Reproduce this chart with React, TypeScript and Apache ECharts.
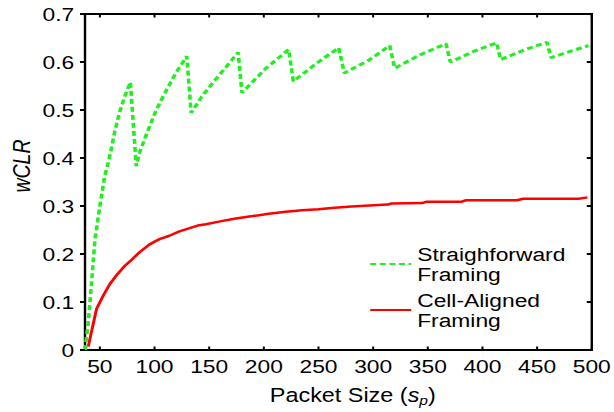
import React, { useEffect, useRef } from "react";
import * as echarts from "echarts";

const xTicks = [50, 100, 150, 200, 250, 300, 350, 400, 450, 500];
const yTicks = [0, 0.1, 0.2, 0.3, 0.4, 0.5, 0.6, 0.7];
const X_MIN = 36.4;
const X_MAX = 500;
const Y_MIN = 0;
const Y_MAX = 0.7;

const straightforwardName = "Straighforward\nFraming";
const cellAlignedName = "Cell-Aligned\nFraming";

const straightforward: [number, number][] = [
  [36.4, 0], [39.4, 0.058], [42.4, 0.14], [45.5, 0.23], [50, 0.3], [54.5, 0.363],
  [57.6, 0.39], [60.6, 0.42], [63.6, 0.455], [68.2, 0.497], [73.6, 0.533], [77.9, 0.558],
  [83.3, 0.383], [86.4, 0.412], [92.4, 0.448], [101.5, 0.5], [110.6, 0.54], [119.7, 0.578], [129.5, 0.612],
  [133.5, 0.494], [143.9, 0.53], [156, 0.564], [165.2, 0.589], [176.5, 0.62],
  [180, 0.536], [201.5, 0.586], [222.7, 0.626],
  [227, 0.56], [247, 0.595], [268.5, 0.63],
  [273.6, 0.577], [295.5, 0.603], [315.2, 0.634],
  [319.7, 0.587], [343, 0.615], [366.7, 0.638],
  [370.6, 0.6], [392, 0.622], [413, 0.64],
  [416.6, 0.605], [438, 0.625], [459, 0.641],
  [462.7, 0.609], [480, 0.622], [497, 0.634],
];

const cellAligned: [number, number][] = [
  [39.4, 0.007], [43, 0.045], [47, 0.086], [53, 0.113], [59, 0.137], [66, 0.158],
  [72.7, 0.175], [80, 0.19], [86.4, 0.204], [95.5, 0.22], [104.5, 0.231], [113.6, 0.238],
  [122.7, 0.247], [140.9, 0.26], [147, 0.262], [160, 0.268], [174.3, 0.274], [190, 0.279],
  [204.5, 0.284], [220, 0.288], [234.8, 0.291], [250, 0.293], [262, 0.296], [280, 0.299],
  [304.5, 0.302], [313.6, 0.303], [316, 0.305], [345, 0.306], [349, 0.309], [381, 0.309],
  [385, 0.312], [432, 0.312], [437, 0.315], [488, 0.315], [496, 0.318],
];

const FONT = "'Liberation Sans', Arial, Helvetica, sans-serif";
// the reference figure is stretched horizontally
const SX = 1.2;
const W = 614 / SX;
const H = 412;

export default function App() {
  const ref = useRef<HTMLDivElement>(null);
  useEffect(() => {
    if (!ref.current) return;
    const chart = echarts.init(ref.current, undefined, { renderer: "svg" });
    const tickW = 2 / SX;
    chart.setOption({
      animation: false,
      backgroundColor: "#fff",
      grid: {
        left: 85 / SX,
        right: 19 / SX,
        top: 14,
        bottom: 57,
        show: true,
        borderColor: "#000",
        borderWidth: 2,
        backgroundColor: "transparent",
      },
      legend: {
        orient: "vertical",
        left: (369 - 6) / SX,
        top: 239,
        itemWidth: 41 / SX,
        itemHeight: 14,
        itemGap: 6,
        itemStyle: { opacity: 0 },
        textStyle: { fontFamily: FONT, fontSize: 19, lineHeight: 20, color: "#000" },
        data: [straightforwardName, cellAlignedName],
      },
      xAxis: {
        type: "value",
        min: X_MIN,
        max: X_MAX,
        axisLine: { show: false },
        axisTick: { show: false },
        axisLabel: {
          customValues: xTicks,
          color: "#000",
          fontFamily: FONT,
          fontSize: 19,
          margin: 7,
        },
        splitLine: { show: false },
        name: "{n|Packet Size (}{s|s}{p|p}{n|)}",
        nameLocation: "middle",
        nameGap: 35,
        nameTextStyle: {
          padding: [0, 0, 0, 24],
          rich: {
            n: { fontFamily: FONT, fontSize: 19.5, color: "#000", lineHeight: 22 },
            s: { fontFamily: FONT, fontSize: 19.5, fontStyle: "italic", color: "#000", lineHeight: 22 },
            p: { fontFamily: FONT, fontSize: 13, fontStyle: "italic", color: "#000", lineHeight: 13, verticalAlign: "bottom" },
          },
        },
      },
      yAxis: {
        type: "value",
        min: Y_MIN,
        max: Y_MAX,
        interval: 0.1,
        axisLine: { show: false },
        axisTick: { show: false },
        axisLabel: {
          color: "#000",
          fontFamily: FONT,
          fontSize: 19,
          margin: 9,
          formatter: (v: number) => {
            const t = yTicks.find((y) => Math.abs(y - v) < 1e-6);
            return t === undefined ? "" : String(t);
          },
        },
        splitLine: { show: false },
      },
      graphic: [
        {
          type: "text",
          x: 22 / SX,
          y: 166,
          rotation: Math.PI / 2,
          style: {
            text: "wCLR",
            fontFamily: FONT,
            fontSize: 19.5,
            fontStyle: "italic",
            fill: "#000",
            textAlign: "center",
            textVerticalAlign: "middle",
          },
        },
      ],
      series: [
        {
          name: straightforwardName,
          type: "line",
          data: straightforward,
          symbol: "none",
          lineStyle: { color: "#22ee22", width: 3, type: [5, 3] },
          itemStyle: { color: "#22ee22" },
          z: 3,
        },
        {
          name: cellAlignedName,
          type: "line",
          data: cellAligned,
          symbol: "none",
          lineStyle: { color: "#ff0000", width: 2.5 },
          itemStyle: { color: "#ff0000" },
          z: 2,
        },
        {
          // x-axis tick marks (bottom and top, pointing inward)
          type: "custom",
          silent: true,
          clip: false,
          z: 5,
          data: xTicks.map((v) => [v, Y_MIN]),
          renderItem: (_p: any, api: any) => {
            const v = api.value(0);
            const b = api.coord([v, Y_MIN]);
            const t = api.coord([v, Y_MAX]);
            return {
              type: "group",
              children: [
                { type: "rect", shape: { x: b[0] - tickW / 2, y: b[1] - 3.5, width: tickW, height: 3.5 }, style: { fill: "#000" } },
                { type: "rect", shape: { x: t[0] - tickW / 2, y: t[1], width: tickW, height: 3.5 }, style: { fill: "#000" } },
              ],
            };
          },
        },
        {
          // y-axis tick marks (left pointing out, right pointing in)
          type: "custom",
          silent: true,
          clip: false,
          z: 5,
          data: yTicks.map((v) => [X_MIN, v]),
          renderItem: (_p: any, api: any) => {
            const v = api.value(1);
            const l = api.coord([X_MIN, v]);
            const r = api.coord([X_MAX, v]);
            const len = 5 / SX;
            return {
              type: "group",
              children: [
                { type: "rect", shape: { x: l[0] - len, y: l[1] - 1, width: len, height: 2 }, style: { fill: "#000" } },
                { type: "rect", shape: { x: r[0] - len, y: r[1] - 1, width: len, height: 2 }, style: { fill: "#000" } },
              ],
            };
          },
        },
      ],
    });
    return () => chart.dispose();
  }, []);
  return (
    <div
      style={{ position: "fixed", left: 0, top: 0, width: 614, height: H, background: "#fff", overflow: "hidden" }}
    >
      <div
        ref={ref}
        style={{
          width: W,
          height: H,
          transform: `scaleX(${SX})`,
          transformOrigin: "left top",
        }}
      />
    </div>
  );
}
